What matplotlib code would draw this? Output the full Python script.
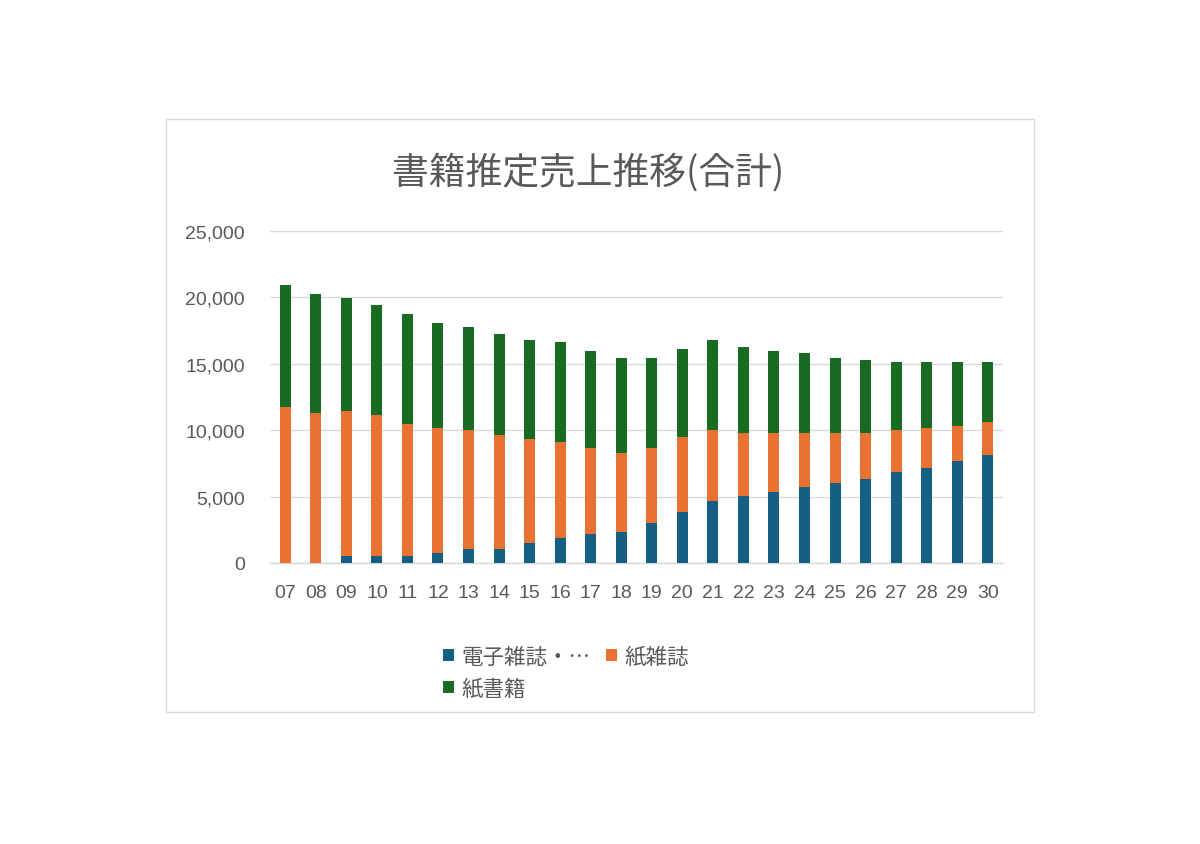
import matplotlib
matplotlib.use("Agg")
import matplotlib.pyplot as plt
from matplotlib.patches import Rectangle, Patch
import numpy as np

plt.rcParams['font.family'] = ['Noto Sans CJK JP', 'DejaVu Sans']

years = ["07","08","09","10","11","12","13","14","15","16","17","18","19","20",
         "21","22","23","24","25","26","27","28","29","30"]
digital = [0,0,550,550,550,730,1030,1030,1540,1860,2220,2370,3020,3850,
           4680,5040,5340,5690,6020,6340,6850,7180,7680,8160]
paper_mag = [11780,11330,10930,10600,9920,9420,8960,8640,7780,7280,6440,5940,5640,5640,
             5310,4780,4480,4130,3800,3480,3140,2970,2640,2490]
paper_book = [9120,8910,8460,8290,8290,7950,7780,7600,7450,7480,7280,7150,6800,6620,
              6780,6470,6120,5970,5640,5460,5120,4960,4790,4460]
labels = ["電子雑誌・…", "紙雑誌", "紙書籍"]
colors = ["#156082", "#E97132", "#196B24"]
title = "書籍推定売上推移(合計)"
yticks = [0, 5000, 10000, 15000, 20000, 25000]

W, H = 1200, 845
fig = plt.figure(figsize=(W/100, H/100), dpi=100)
fig.patch.set_facecolor("white")

# chart frame
fig.patches.append(Rectangle((166/W, 1-713/H), (1034-166)/W, (713-120)/H,
                             transform=fig.transFigure, fill=False,
                             edgecolor="#d9d9d9", linewidth=1.0))

ax = fig.add_axes([270/W, 1-564/H, (1003-270)/W, (564-232)/H])
x = np.arange(len(years))
bw = 0.36
ax.bar(x, digital, bw, color=colors[0], zorder=3)
bottom2 = np.array(digital)
ax.bar(x, paper_mag, bw, bottom=bottom2, color=colors[1], zorder=3)
bottom3 = bottom2 + np.array(paper_mag)
ax.bar(x, paper_book, bw, bottom=bottom3, color=colors[2], zorder=3)

ax.set_xlim(-0.5, len(years)-0.5)
ax.set_ylim(0, 25000)
ax.set_yticks(yticks)
ax.set_yticklabels([f"{v:,}" for v in yticks], family=['Liberation Sans', 'DejaVu Sans'])
ax.set_xticks(x)
ax.set_xticklabels(years, family=['Liberation Sans', 'DejaVu Sans'])
ax.tick_params(axis='both', length=0, labelsize=14, colors="#595959")
ax.tick_params(axis='y', pad=18)
ax.tick_params(axis='x', pad=15)
ax.grid(axis='y', color="#d9d9d9", linewidth=1.0, zorder=0)
for s in ["top", "right", "left"]:
    ax.spines[s].set_visible(False)
ax.spines["bottom"].set_color("#d9d9d9")
ax.spines["bottom"].set_linewidth(1.0)

fig.text(588/W, 1-173/H, title, ha="center", va="center", fontsize=26.5, color="#595959")

handles = [Patch(facecolor=colors[0]), Patch(facecolor=colors[2]), Patch(facecolor=colors[1])]
hl = [labels[0], labels[2], labels[1]]
leg = fig.legend(handles, hl, ncol=2, loc="upper left",
                 bbox_to_anchor=(443/W, 1-647/H), frameon=False,
                 fontsize=15.5, handlelength=0.5, handleheight=0.5,
                 handletextpad=0.35, columnspacing=0.75, labelspacing=0.45,
                 borderpad=0, borderaxespad=0)
for t in leg.get_texts():
    t.set_color("#595959")

fig.savefig("out.png", dpi=100, facecolor="white")
